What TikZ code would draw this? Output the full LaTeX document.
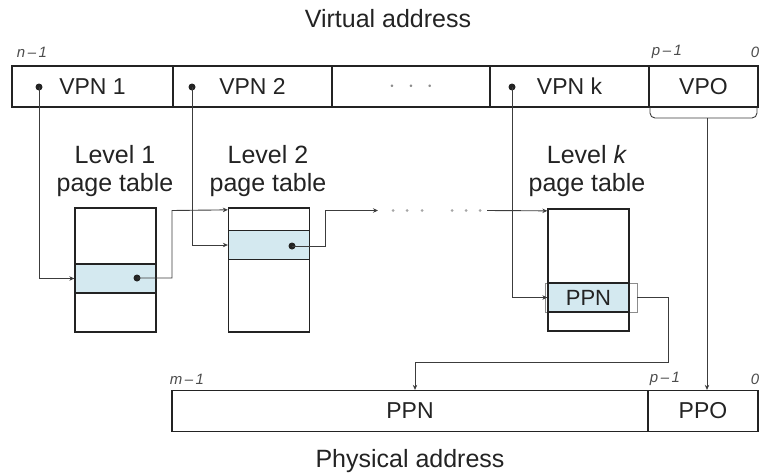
\documentclass[tikz,border=0pt]{standalone}
\usepackage{fontspec}
\setmainfont{Liberation Sans}
\usetikzlibrary{arrows.meta,calc}
\definecolor{rowfill}{RGB}{212,233,240}
\definecolor{wirecol}{RGB}{60,60,60}
\definecolor{ink}{RGB}{35,35,35}

\begin{document}
\begin{tikzpicture}[x=1pt,y=-1pt,
  cell/.style={draw=ink, line width=1.3pt, minimum height=41pt, inner sep=0pt,
    text=ink, font=\fontsize{23}{26}\selectfont},
  tbl/.style={draw=ink, line width=1.3pt, inner sep=0pt, minimum width=81pt},
  hl/.style={fill=rowfill, draw=ink, line width=1.3pt, inner sep=0pt,
    minimum width=81pt, minimum height=29pt, text=ink, font=\fontsize{22}{24}\selectfont},
  wire/.style={draw=wirecol, line width=0.9pt},
  arr/.style={wire, -{Stealth[length=5pt,width=4.5pt]}},
  ptr/.style={circle, fill=ink, inner sep=0pt, minimum size=7pt},
  gap/.style={circle, fill=black!35, inner sep=0pt, minimum size=3pt},
  title/.style={text=ink, font=\fontsize{25}{28}\selectfont, align=center},
  bits/.style={text=black!70, font=\itshape\fontsize{15}{17}\selectfont},
]
\useasboundingbox (0,0) rectangle (760,474);

% ---------- virtual address ----------
\node[title] (va) at (388,19) {Virtual address};
\node[bits] (vn) at (32,52) {n\,–\,1};
\node[bits] (vp) at (667,52) {p\,–\,1};
\node[bits] (v0) at (755,52) {0};

\node[cell, minimum width=161pt] (vpn1) at (92.5,86.5) {VPN 1};
\node[cell, minimum width=159pt] (vpn2) at (252.5,86.5) {VPN 2};
\node[cell, minimum width=158pt, text=black!45] (vdots) at (411,86.5) {$\cdot\ \cdot\ \cdot$};
\node[cell, minimum width=159pt] (vpnk) at (569.5,86.5) {VPN k};
\node[cell, minimum width=109pt] (vpo) at (703.5,86.5) {VPO};

\node[ptr] (d1) at (39,87) {};
\node[ptr] (d2) at (192,87) {};
\node[ptr] (dk) at (512,87) {};

% ---------- page tables ----------
\node[title] (l1) at (115,171) {Level 1\\page table};
\node[title] (l2) at (268,171) {Level 2\\page table};
\node[title] (lk) at (587,171) {Level \textit{k}\\page table};

\node[hl] (r1) at (115.5,278.5) {};
\node[tbl, minimum height=124pt] (t1) at (115.5,270) {};
\node[ptr] (p1) at (137,278) {};

\node[hl] (r2) at (269,245) {};
\node[tbl, minimum height=124pt] (t2) at (269,270) {};
\node[ptr] (p2) at (292,246) {};

\node[draw=black!45, line width=0.6pt, inner sep=0pt, minimum width=92pt,
  minimum height=29pt] (rkx) at (591,297.5) {};
\node[hl] (rk) at (588.5,297.5) {PPN};
\node[tbl, minimum height=122pt] (tk) at (588.5,270) {};

\coordinate (t2in) at ($(t2.north west)+(0,2.5)$);
\coordinate (tkin) at ($(tk.north west)+(0,2.5)$);

% ---------- physical address ----------
\node[bits] (pm) at (187,379) {m\,–\,1};
\node[bits] (pp) at (665,379) {p\,–\,1};
\node[bits] (p0) at (755,379) {0};
\node[cell, minimum width=476pt] (ppn) at (410,411) {PPN};
\node[cell, minimum width=110pt] (ppo) at (703,411) {PPO};
\node[title] (pa) at (410,461) {Physical address};

% ---------- connectors ----------
\draw[arr] (d1.center) |- (r1.west);
\draw[arr] (d2.center) |- (r2.west);
\draw[arr] (dk.center) |- (rk.west);

\draw[arr] (p1.center) -- (172,278) -- (172,210.5) -- (t2in);
\draw[arr] (p2.center) -- (325,246) -- (325,210.5) -- (378,210.5);
\foreach \x in {393,407,422,452,466,480} \node[gap] at (\x,210.5) {};
\draw[arr] (487,210.5) -- (tkin);

\draw[arr] (rkx.east) -- (668,297.5) -- (668,362) -| ($(ppn.north)+(5,0)$);

% offset bits fan in through a brace under VPO
\draw[wire, rounded corners=5pt] (650,107) -- (650,118) -- (757,118) -- (757,107);
\coordinate (brc) at (707,118);
\draw[arr] (brc) -- (brc |- ppo.north);
\end{tikzpicture}
\end{document}
